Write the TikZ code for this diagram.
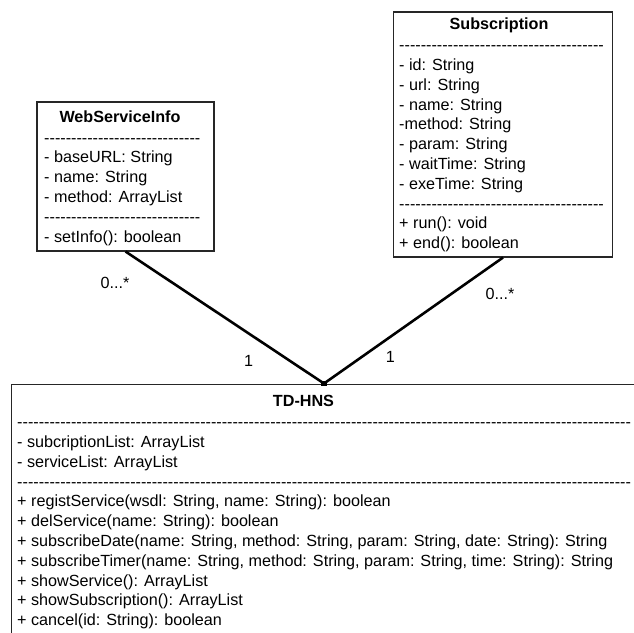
\documentclass[tikz,border=0pt]{standalone}
\usepackage{fontspec}
\newfontfamily\umlfont{Liberation Sans}
\newcommand\dashrow[1]{\foreach\n in {1,...,#1}{-}}

\begin{document}
\begin{tikzpicture}[x=0.03cm, y=-0.03cm]
    \tikzset{classbox/.style= {draw=black!85,
                               line width=0.9pt,
                               rectangle,
                               inner sep=0pt},
             classname/.style={font=\umlfont\fontsize{13.8}{16.9}\selectfont\bfseries,
                               anchor=base},
             members/.style=  {font=\umlfont\fontsize{13.8}{16.9}\selectfont,
                               align=left,
                               anchor=north west,
                               inner sep=0pt},
             mult/.style=     {font=\umlfont\fontsize{13.8}{16.9}\selectfont,
                               anchor=base},
             assoc/.style=    {line width=2.2pt},
            }
    \useasboundingbox (0,0) rectangle (634,632);
    \clip (0,0) rectangle (634,632);
    \path
    (125.5,176.5) node[classbox, minimum width=5.31cm, minimum height=4.47cm](web) {}
    (503,134.5)   node[classbox, minimum width=6.57cm, minimum height=7.35cm](sub) {}
    (11,384)      node[classbox, anchor=north west,
                       minimum width=22cm, minimum height=10cm](td) {}
    (120,122.3)   node[classname](webT) {WebServiceInfo}
    (499,29.5)    node[classname](subT) {Subscription}
    (303.5,406.7) node[classname](tdT) {TD-HNS}
    (44,129)      node[members](webB) {\strut\dashrow{29}\\
                                      - baseURL: String\\
                                      - name: String\\
                                      - method: ArrayList\\
                                      \dashrow{29}\\
                                      - setInfo(): boolean}
    (399,36.6)    node[members](subB) {\strut\dashrow{38}\\
                                      - id: String\\
                                      - url: String\\
                                      - name: String\\
                                      -method: String\\
                                      - param: String\\
                                      - waitTime: String\\
                                      - exeTime: String\\
                                      \dashrow{38}\\
                                      + run(): void\\
                                      + end(): boolean}
    (17,413.6)    node[members](tdB) {\strut\dashrow{114}\\
                                      - subcriptionList: ArrayList\\
                                      - serviceList: ArrayList\\
                                      \dashrow{114}\\
                                      + registService(wsdl: String, name: String): boolean\\
                                      + delService(name: String): boolean\\
                                      + subscribeDate(name: String, method: String, param: String, date: String): String\\
                                      + subscribeTimer(name: String, method: String, param: String, time: String): String\\
                                      + showService(): ArrayList\\
                                      + showSubscription(): ArrayList\\
                                      + cancel(id: String): boolean}
    (324,383.5)   node[fill, inner sep=0pt,
                       minimum width=0.19cm, minimum height=0.15cm](joint) {}
    (115,288.3)   node[mult](webMany) {0...*}
    (500,299.3)   node[mult](subMany) {0...*}
    (248.5,366)   node[mult](webOne) {1}
    (390.3,362.7) node[mult](subOne) {1}
    ;
    \draw[assoc] (web.south) -- (joint.center);
    \draw[assoc] (sub.south) -- (joint.center);
\end{tikzpicture}
\end{document}
